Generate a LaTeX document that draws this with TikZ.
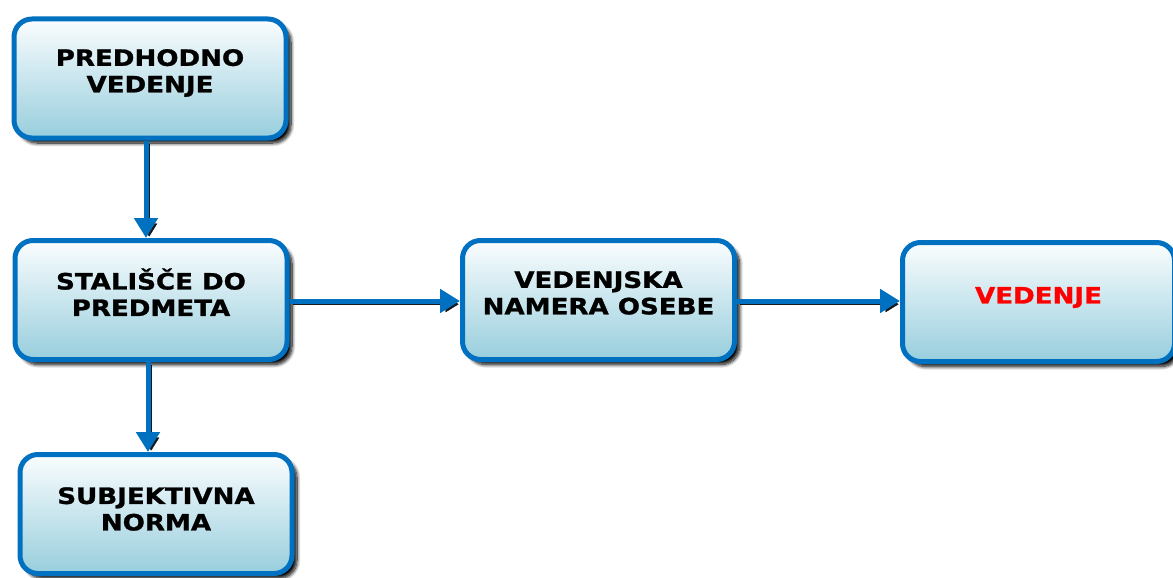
\documentclass[tikz,border=0pt]{standalone}
\usepackage{fontspec}
\setmainfont{DejaVu Sans}
\newfontfamily\boxfont[FakeStretch=1.16,FakeBold=1.2]{DejaVu Sans}
\usetikzlibrary{arrows.meta,shadows.blur}

\definecolor{edgeblue}{RGB}{0,112,192}
\definecolor{filltop}{RGB}{250,253,254}
\definecolor{fillbottom}{RGB}{152,206,221}
\definecolor{hotred}{RGB}{255,0,0}

\tikzset{
  flowbox/.style={draw=edgeblue, line width=5pt, rounded corners=18pt,
    minimum width=272pt, minimum height=119pt, inner sep=0pt,
    top color=filltop, bottom color=fillbottom,
    blur shadow={shadow xshift=5pt, shadow yshift=-5pt,
      shadow blur radius=3.5pt, shadow opacity=100, shadow blur steps=10}},
  boxlabel/.style={align=center, inner sep=0pt,
    font=\boxfont\bfseries\fontsize{22.5}{26.5}\selectfont},
  flowarrow/.style={draw=edgeblue, line width=5pt,
    -{Triangle[length=20pt,width=23pt]},
    preaction={draw=black, opacity=0.9,
      transform canvas={shift={(3.2pt,-3.2pt)}}}}
}

\begin{document}
\begin{tikzpicture}[x=1pt,y=1pt]
\useasboundingbox (0,0) rectangle (1173,-578);

% boxes
\node[flowbox] (pv) at (150,-78.5) {};
\node[flowbox] (sp) at (151,-300)  {};
\node[flowbox] (sn) at (156,-514)  {};
\node[flowbox] (vn) at (598.5,-300) {};
\node[flowbox] (ve) at (1038.5,-302) {};

% box texts
\node[boxlabel] (pvt) at ([yshift=5.5pt]pv.center) {PREDHODNO\\VEDENJE};
\node[boxlabel] (spt) at ([yshift=7.7pt]sp.center) {STALIŠČE DO\\PREDMETA};
\node[boxlabel] (snt) at ([yshift=5pt]sn.center) {SUBJEKTIVNA\\NORMA};
\node[boxlabel] (vnt) at ([yshift=7.1pt]vn.center) {VEDENJSKA\\NAMERA OSEBE};
\node[boxlabel, text=hotred] (vet) at ([yshift=4.5pt]ve.center) {VEDENJE};

% connectors
\draw[flowarrow] ([xshift=-4pt]pv.south) -- ([xshift=-4pt]pv.south |- sp.north);
\draw[flowarrow] ([xshift=-3pt]sp.south) -- ([xshift=-3pt]sp.south |- sn.north);
\draw[flowarrow] ([yshift=-1pt]sp.east) -- ([yshift=-1pt]sp.east -| vn.west);
\draw[flowarrow] ([yshift=-1pt]vn.east) -- ([yshift=-1pt]vn.east -| ve.west);
\end{tikzpicture}
\end{document}
